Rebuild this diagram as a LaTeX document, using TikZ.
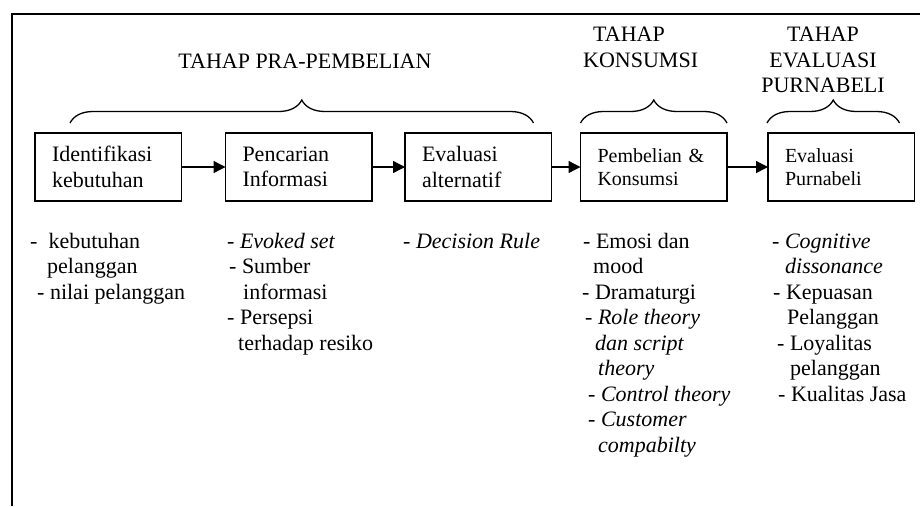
\documentclass[tikz,border=0pt]{standalone}
\usepackage{fontspec}
\setmainfont{Liberation Serif}
\usetikzlibrary{positioning,arrows.meta,calc,decorations.pathreplacing}
\tikzset{>={Triangle[length=12pt,width=12pt]}}
\newcommand{\indnt}[1]{\hspace*{#1pt}}
\newcommand{\bigfont}{\fontsize{22}{25.5}\selectfont}
\newcommand{\boxfont}{\fontsize{20}{23}\selectfont}

\begin{document}
\begin{tikzpicture}[x=1pt, y=-1pt, font=\bigfont,
    stage/.style={draw, line width=1.5pt, minimum height=68pt, text width=112.5pt,
      inner xsep=17pt, inner ysep=0pt, outer sep=0pt, align=left},
    list/.style={anchor=north west, inner sep=0pt, align=left},
    brc/.style={decorate, decoration={brace, amplitude=23pt}, line width=1.3pt}]
        \useasboundingbox (0,0) rectangle (920,506);
        \draw[line width=1.5pt] (12,506) -- (12,14) -- (920,14); % frame

        \node[stage, anchor=north west] (s1) at (35,133) {Identifikasi\\kebutuhan};
        \node[stage] (s2) [right=44pt of s1] {Pencarian\\Informasi};
        \node[stage] (s3) [right=33pt of s2] {Evaluasi\\alternatif};
        \node[stage, font=\boxfont] (s4) [right=29pt of s3] {Pembelian \&\\Konsumsi};
        \node[stage, font=\boxfont] (s5) [right=41pt of s4] {Evaluasi\\Purnabeli};

        \path[->, line width=1.3pt]
        (s1) edge (s2)
        (s2) edge (s3)
        (s3) edge (s4)
        (s4) edge (s5);

        % braces over the stages
        \draw[brc] ($(s1.north west)+(35,-10)$) -- ($(s3.north east)+(-18,-10)$);
        \draw[brc] ($(s4.north west)+(0,-10)$) -- ($(s4.north east)+(0,-10)$);
        \draw[brc] ($(s5.north west)+(-1,-10)$) -- ($(s5.north east)+(-15,-10)$);

        \node (h1) at (305,61.5) {TAHAP PRA-PEMBELIAN};
        \node[list] (h2) at (583,27) {\indnt{10}TAHAP\\KONSUMSI};
        \node[anchor=north, inner sep=0pt, align=center] (h3) at (823,27) {TAHAP\\EVALUASI\\PURNABELI};

        % lists under the boxes
        \node[list] (l1) at (30,230) {\strut-~~kebutuhan\\\indnt{17}pelanggan\\\indnt{7}- nilai pelanggan};
        \node[list] (l2) at (227,230) {\strut- \textit{Evoked set}\\\indnt{2}- Sumber\\\indnt{16}informasi\\- Persepsi\\\indnt{11}terhadap resiko};
        \node[list] (l3) at (403,230) {\strut- \textit{Decision Rule}};
        \node[list] (l4) at (582,230) {\strut\indnt{1}- Emosi dan\\\indnt{11}mood\\- Dramaturgi\\\indnt{3}- \textit{Role theory}\\\indnt{13}\textit{dan script}\\\indnt{16}\textit{theory}\\\indnt{6}- \textit{Control theory}\\\indnt{6}- \textit{Customer}\\\indnt{16}\textit{compabilty}};
        \node[list] (l5) at (772,230) {\strut- \textit{Cognitive}\\\indnt{13}\textit{dissonance}\\\indnt{1}- Kepuasan\\\indnt{15}Pelanggan\\\indnt{5}- Loyalitas\\\indnt{18}pelanggan\\\indnt{6}- Kualitas Jasa};
      \end{tikzpicture}
\end{document}
